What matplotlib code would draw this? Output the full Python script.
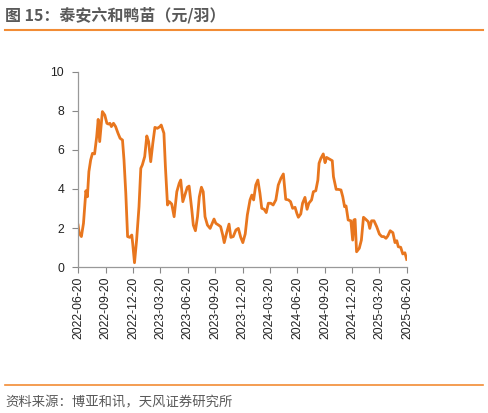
import numpy as np
import pandas as pd
import matplotlib
matplotlib.use('Agg')
import matplotlib.pyplot as plt
import matplotlib.dates as mdates

plt.rcParams['font.family'] = ['Liberation Sans', 'Noto Sans CJK SC', 'DejaVu Sans']

# 泰安六和鸭苗价格 (元/羽), days counted from 2022-06-20
start = pd.Timestamp('2022-06-20')
days = [0, 4, 11, 18, 26, 31, 36, 42, 48, 55, 62, 67, 72, 81, 89, 96, 101, 106, 111,
        118, 125, 133, 140, 148, 153, 159, 165, 172, 179, 182, 188, 195, 203, 209,
        214, 222, 229, 235, 242, 249, 256, 264, 273, 277, 286, 291, 298, 304, 312,
        320, 329, 337, 342, 349, 356, 364, 370, 379, 384, 391, 398, 404, 411, 417,
        423, 431, 440, 447, 453, 459, 468, 475, 482, 487, 496, 503, 509, 517, 526,
        534, 542, 549, 557, 564, 573, 579, 585, 592, 599, 606, 612, 620, 627, 634,
        642, 650, 659, 667, 676, 684, 692, 701, 708, 715, 723, 729, 734, 742, 748,
        756, 763, 769, 778, 784, 792, 799, 803, 809, 817, 823, 828, 839, 847, 851,
        860, 867, 876, 882, 888, 893, 900, 909, 915, 919, 923, 928, 937, 944, 951,
        959, 967, 972, 978, 986, 995, 1004, 1012, 1019, 1026, 1032, 1040, 1049,
        1056, 1062, 1067, 1075, 1082, 1089, 1095]
price = [2.15, 1.73, 1.56, 2.24, 3.91, 3.6, 4.89, 5.49, 5.83, 5.8, 6.68, 7.57, 6.43,
         7.97, 7.79, 7.37, 7.33, 7.37, 7.2, 7.37, 7.2, 6.86, 6.6, 6.51, 5.49, 3.78,
         1.56, 1.52, 1.64, 1.21, 0.22, 1.38, 3.09, 5.06, 5.23, 5.66, 6.72, 6.43, 5.4,
         6.34, 7.16, 7.11, 7.2, 7.28, 6.86, 5.14, 3.18, 3.35, 3.23, 2.58, 3.86, 4.29,
         4.46, 3.35, 3.69, 4.09, 4.15, 2.92, 2.15, 1.86, 2.58, 3.6, 4.09, 3.86, 2.58,
         2.15, 1.98, 2.24, 2.46, 2.24, 2.15, 2.07, 1.64, 1.25, 1.81, 2.2, 1.52, 1.56,
         1.9, 1.98, 1.52, 1.25, 1.7, 2.67, 3.44, 3.69, 3.44, 4.2, 4.46, 3.78, 3.01,
         2.96, 2.79, 3.27, 3.27, 3.18, 3.44, 4.2, 4.55, 4.77, 3.47, 3.44, 3.35, 3.01,
         3.06, 2.75, 2.55, 2.72, 3.27, 3.57, 2.96, 3.27, 3.44, 3.86, 3.91, 4.46, 5.32,
         5.57, 5.8, 5.35, 5.62, 5.52, 5.45, 4.63, 3.98, 3.98, 3.95, 3.6, 3.09, 3.13,
         2.41, 2.37, 1.38, 2.41, 2.44, 0.78, 0.96, 1.38, 2.55, 2.44, 2.32, 1.98, 2.37,
         2.37, 2.07, 1.69, 1.56, 1.56, 1.47, 1.59, 1.86, 1.76, 1.25, 1.35, 1.04, 1.01,
         0.67, 0.73, 0.39]
tick_dates = ['2022-06-20', '2022-09-20', '2022-12-20', '2023-03-20', '2023-06-20',
              '2023-09-20', '2023-12-20', '2024-03-20', '2024-06-20', '2024-09-20',
              '2024-12-20', '2025-03-20', '2025-06-20']
yticks = [0, 2, 4, 6, 8, 10]

dates = start + pd.to_timedelta(days, unit='D')
tick_ts = pd.to_datetime(tick_dates)

fig = plt.figure(figsize=(4.88, 4.13), dpi=100)
ax = fig.add_axes([0.160, 0.3535, 0.674, 0.4722])

ax.plot(dates, price, color='#E8761E', linewidth=2.0, solid_joinstyle='round')

ax.set_xlim(tick_ts[0], tick_ts[-1])
ax.set_ylim(0, 10)
ax.set_yticks(yticks)
ax.set_xticks(tick_ts)
ax.set_xticklabels(tick_dates, rotation=90, fontsize=8.8, color='#222222')
ax.tick_params(axis='y', labelsize=8.8, colors='#222222', length=4, width=0.8, color='#888888', pad=6)
ax.tick_params(axis='x', length=4, width=0.8, color='#888888', pad=3)

for s in ['top', 'right']:
    ax.spines[s].set_visible(False)
for s in ['left', 'bottom']:
    ax.spines[s].set_color('#999999')
    ax.spines[s].set_linewidth(0.9)

# title and footer
fig.text(5 / 488, 1 - 15 / 413, '图 15：泰安六和鸭苗（元/羽）', fontsize=11.5, fontweight='bold',
         color='#595959', va='center', ha='left', family=['Noto Sans CJK SC', 'DejaVu Sans'])
fig.add_artist(plt.Line2D([5 / 488, 483 / 488], [1 - 29.5 / 413, 1 - 29.5 / 413],
                          color='#F28C35', linewidth=1.5))
fig.add_artist(plt.Line2D([5 / 488, 483 / 488], [1 - 385 / 413, 1 - 385 / 413],
                          color='#F28C35', linewidth=1.2))
fig.text(5 / 488, 1 - 402 / 413, '资料来源：博亚和讯，天风证券研究所', fontsize=9.6,
         color='#595959', va='center', ha='left', family=['Noto Sans CJK SC', 'DejaVu Sans'])

fig.savefig('out.png', dpi=100)
